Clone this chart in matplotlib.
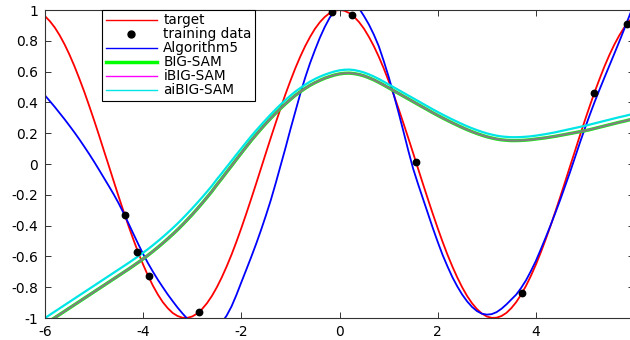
import numpy as np
import matplotlib
matplotlib.use("Agg")
import matplotlib.pyplot as plt
from matplotlib.lines import Line2D

plt.rcParams['font.family'] = ['DejaVu Sans']

# sample positions of the curves, step 0.1 from -6 to 6
x_grid = np.linspace(-6, 6, 121)

# values
target = [
    0.960, 0.927, 0.886, 0.835, 0.776, 0.709, 0.635, 0.554, 0.469, 0.378,
    0.284, 0.187, 0.087, -0.012, -0.112, -0.211, -0.307, -0.401, -0.490, -0.575,
    -0.654, -0.726, -0.791, -0.848, -0.897, -0.936, -0.967, -0.987, -0.998, -0.999,
    -0.990, -0.971, -0.942, -0.904, -0.857, -0.801, -0.737, -0.666, -0.589, -0.505,
    -0.416, -0.323, -0.227, -0.129, -0.029, 0.071, 0.170, 0.267, 0.362, 0.454,
    0.540, 0.622, 0.697, 0.765, 0.825, 0.878, 0.921, 0.955, 0.980, 0.995,
    1.000,
    0.995, 0.980, 0.955, 0.921, 0.878, 0.825, 0.765, 0.697, 0.622, 0.540,
    0.454, 0.362, 0.267, 0.170, 0.071, -0.029, -0.129, -0.227, -0.323, -0.416,
    -0.505, -0.589, -0.666, -0.737, -0.801, -0.857, -0.904, -0.942, -0.971, -0.990,
    -0.999, -0.998, -0.987, -0.967, -0.936, -0.897, -0.848, -0.791, -0.726, -0.654,
    -0.575, -0.490, -0.401, -0.307, -0.211, -0.112, -0.012, 0.087, 0.187, 0.284,
    0.378, 0.469, 0.554, 0.635, 0.709, 0.776, 0.835, 0.886, 0.927, 0.960]

algorithm5 = [
    0.445, 0.408, 0.370, 0.330, 0.290, 0.248, 0.205, 0.160, 0.113, 0.065,
    0.015, -0.037, -0.090, -0.143, -0.197, -0.255, -0.318, -0.385, -0.453, -0.520,
    -0.585, -0.645, -0.700, -0.752, -0.800, -0.847, -0.890, -0.932, -0.970, -1.005,
    -1.035, -1.056, -1.072, -1.080, -1.078, -1.062, -1.030, -0.985, -0.925, -0.850,
    -0.768, -0.687, -0.605, -0.520, -0.430, -0.335, -0.235, -0.125, -0.010, 0.105,
    0.225, 0.340, 0.455, 0.560, 0.655, 0.740, 0.820, 0.890, 0.950, 0.995,
    1.030,
    1.055, 1.060, 1.045, 1.010, 0.960, 0.905, 0.840, 0.765, 0.670, 0.568,
    0.456, 0.338, 0.215, 0.089, -0.030, -0.130, -0.225, -0.320, -0.415, -0.505,
    -0.590, -0.665, -0.735, -0.795, -0.848, -0.892, -0.928, -0.955, -0.972, -0.978,
    -0.975, -0.962, -0.940, -0.912, -0.880, -0.848, -0.805, -0.755, -0.695, -0.630,
    -0.555, -0.478, -0.398, -0.315, -0.230, -0.140, -0.050, 0.045, 0.140, 0.232,
    0.320, 0.405, 0.485, 0.563, 0.640, 0.717, 0.795, 0.875, 0.957, 1.040]

aibigsam = [
    -1.000, -0.979, -0.958, -0.937, -0.916, -0.895, -0.874, -0.853, -0.832, -0.811,
    -0.790, -0.769, -0.748, -0.727, -0.706, -0.685, -0.664, -0.643, -0.621, -0.599,
    -0.576, -0.552, -0.527, -0.501, -0.474, -0.446, -0.417, -0.387, -0.355, -0.322,
    -0.288, -0.253, -0.217, -0.180, -0.142, -0.100, -0.061, -0.020, 0.020, 0.061,
    0.101, 0.141, 0.180, 0.217, 0.253, 0.288, 0.322, 0.355, 0.386, 0.416,
    0.444, 0.470, 0.493, 0.515, 0.535, 0.552, 0.567, 0.580, 0.591, 0.601,
    0.608,
    0.612, 0.613, 0.610, 0.603, 0.594, 0.582, 0.568, 0.552, 0.535, 0.517,
    0.499, 0.481, 0.463, 0.445, 0.427, 0.409, 0.391, 0.373, 0.355, 0.338,
    0.321, 0.305, 0.289, 0.274, 0.259, 0.245, 0.232, 0.220, 0.209, 0.199,
    0.191, 0.184, 0.179, 0.176, 0.174, 0.174, 0.175, 0.177, 0.180, 0.184,
    0.189, 0.194, 0.200, 0.206, 0.213, 0.220, 0.227, 0.234, 0.241, 0.248,
    0.256, 0.264, 0.272, 0.280, 0.288, 0.296, 0.304, 0.311, 0.319, 0.326]

# BIG-SAM and iBIG-SAM lie on top of each other
bigsam = [
    -1.040, -1.019, -0.998, -0.977, -0.956, -0.935, -0.914, -0.893, -0.872, -0.851,
    -0.830, -0.809, -0.788, -0.767, -0.746, -0.725, -0.704, -0.683, -0.661, -0.639,
    -0.616, -0.592, -0.567, -0.541, -0.514, -0.486, -0.457, -0.427, -0.395, -0.362,
    -0.328, -0.292, -0.255, -0.217, -0.178, -0.135, -0.095, -0.053, -0.012, 0.030,
    0.071, 0.112, 0.152, 0.190, 0.227, 0.263, 0.297, 0.330, 0.361, 0.391,
    0.419, 0.446, 0.469, 0.491, 0.511, 0.528, 0.543, 0.557, 0.568, 0.578,
    0.585,
    0.589, 0.590, 0.587, 0.581, 0.572, 0.560, 0.546, 0.530, 0.513, 0.495,
    0.477, 0.459, 0.441, 0.423, 0.405, 0.387, 0.369, 0.351, 0.333, 0.316,
    0.299, 0.283, 0.267, 0.252, 0.237, 0.223, 0.210, 0.198, 0.187, 0.177,
    0.169, 0.162, 0.157, 0.154, 0.152, 0.152, 0.153, 0.155, 0.158, 0.162,
    0.166, 0.170, 0.175, 0.180, 0.186, 0.192, 0.198, 0.204, 0.210, 0.216,
    0.223, 0.231, 0.239, 0.247, 0.255, 0.263, 0.271, 0.278, 0.286, 0.293]
ibigsam = list(bigsam)

train_x = [-4.38, -4.12, -3.89, -2.86, -0.16, 0.25, 1.56, 3.72, 5.18, 5.86]
train_y = [-0.33, -0.57, -0.73, -0.96, 0.99, 0.97, 0.01, -0.84, 0.46, 0.91]

xticks = [-6, -4, -2, 0, 2, 4, 6]
xtick_labels = ['-6', '-4', '-2', '0', '2', '4', '6']
yticks = [-1, -0.8, -0.6, -0.4, -0.2, 0, 0.2, 0.4, 0.6, 0.8, 1]
ytick_labels = ['-1', '-0.8', '-0.6', '-0.4', '-0.2', '0', '0.2', '0.4', '0.6', '0.8', '1']

fig = plt.figure(figsize=(6.3, 3.4), dpi=100)
ax = fig.add_axes([45 / 630, 22 / 340, 589 / 630, 308 / 340])

ax.plot(x_grid, target, color='#ff0000', lw=1.3)
ax.plot(train_x, train_y, 'o', color='black', ms=4.6, zorder=5)
ax.plot(x_grid, algorithm5, color='#0000ff', lw=1.3)
ax.plot(x_grid, bigsam, color='#00ff00', lw=2.4)
ax.plot(x_grid, ibigsam, color='#ff00ff', lw=1.6, alpha=0.5)
ax.plot(x_grid, aibigsam, color='#00e5e5', lw=1.6)

ax.set_xlim(-6, 6)
ax.set_ylim(-1, 1)
ax.set_xticks(xticks)
ax.set_xticklabels(xtick_labels)
ax.set_yticks(yticks)
ax.set_yticklabels(ytick_labels)
ax.tick_params(direction='in', top=True, right=True, length=4, width=0.7,
               labelsize=10, color='#333333', pad=5)
for s in ax.spines.values():
    s.set_color('#333333')
    s.set_linewidth(0.8)

# legend handles in the reference's style
handles = [
    Line2D([], [], color='#ff0000', lw=1.0),
    Line2D([], [], color='black', marker='o', ms=5, ls='none'),
    Line2D([], [], color='#0000ff', lw=1.0),
    Line2D([], [], color='#00ff00', lw=2.5),
    Line2D([], [], color='#ff00ff', lw=1.0),
    Line2D([], [], color='#00e5e5', lw=1.0),
]
labels = ['target', 'training data', 'Algorithm5', 'BIG-SAM', 'iBIG-SAM', 'aiBIG-SAM']
leg = ax.legend(handles, labels, loc='upper left', bbox_to_anchor=(0.097, 1.0),
                borderaxespad=0, fontsize=9.8, labelspacing=0.0, handlelength=3.8,
                handletextpad=0.45, borderpad=0.25, fancybox=False,
                edgecolor='black', framealpha=1)
leg.get_frame().set_linewidth(0.8)

fig.savefig('out.png', dpi=100)
